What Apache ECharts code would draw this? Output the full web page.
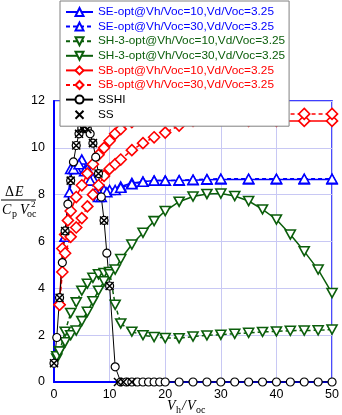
<!DOCTYPE html>
<html>
<head>
<meta charset="utf-8">
<script src="https://cdn.jsdelivr.net/npm/echarts@6/dist/echarts.min.js"></script>
<style>
  html, body { margin: 0; padding: 0; background: #fff; }
  #chart { width: 342px; height: 415px; }
</style>
</head>
<body>
<div id="chart"></div>
<script>
// x ticks / y ticks
const xTicks = [0, 10, 20, 30, 40, 50]
const yTicks = [0, 2, 4, 6, 8, 10, 12]

// SE-opt (blue, up triangles)
const seX10 = [2, 3, 4, 5, 6, 7, 8, 9, 10, 12, 14, 16, 18, 20, 22.5, 25, 27.5, 30, 35, 40, 45, 50]
const seY10 = [6.2, 9.1, 9.1, 9.5, 9.1, 8.7, 7.9, 8.2, 8.2, 8.35, 8.5, 8.55, 8.6, 8.6, 8.6, 8.62, 8.64, 8.65, 8.65, 8.65, 8.65, 8.65]
const seX30 = [2, 2.8, 3.5, 4.5, 5.5, 6.5, 7.5, 8.5, 9.5, 11, 12, 14, 16, 18, 20, 22.5, 25, 27.5, 30, 35, 40, 45, 50]
const seY30 = [6.2, 8.1, 9.1, 9.3, 9.0, 8.6, 8.1, 7.9, 8.1, 8.2, 8.3, 8.45, 8.55, 8.6, 8.6, 8.62, 8.64, 8.66, 8.68, 8.68, 8.68, 8.68, 8.68]

// SH-3-opt (green, down triangles)
const shX10 = [0.5, 1, 2, 3, 4, 5, 6, 7, 8, 9, 10, 11, 12, 14, 16, 18, 20, 22.5, 25, 27.5, 30, 32.5, 35, 37.5, 40, 42.5, 45, 47.5, 50]
const shY10 = [1.0, 1.3, 2.15, 2.95, 3.4, 3.9, 4.2, 4.45, 4.6, 4.65, 4.7, 3.3, 2.5, 2.15, 2.0, 1.92, 1.88, 1.87, 1.94, 1.99, 2.02, 2.06, 2.1, 2.14, 2.16, 2.19, 2.2, 2.21, 2.24]
const shX30 = [0.5, 1, 2, 3, 4, 5, 6, 7, 8, 9, 10, 11, 12, 14, 16, 18, 20, 22.5, 25, 27.5, 30, 32.5, 35, 37.5, 40, 42.5, 45, 47.5, 50]
const shY30 = [1.1, 1.3, 1.7, 2.0, 2.2, 2.6, 3.0, 3.45, 3.9, 4.3, 4.6, 4.8, 5.25, 5.87, 6.37, 6.87, 7.3, 7.7, 7.92, 8.03, 8.05, 7.94, 7.73, 7.37, 6.94, 6.3, 5.58, 4.8, 3.8]

// SB-opt (red, diamonds)
const sbX10 = [1, 1.5, 2, 2.5, 3, 4, 5, 6, 7, 8, 9, 10, 11, 12, 14, 16, 18, 20, 22.5, 25, 27.5, 30, 35, 40, 45, 50]
const sbY10 = [3.3, 5.7, 6.3, 6.9, 7.3, 7.9, 8.4, 8.9, 9.3, 9.7, 10.0, 10.3, 10.6, 10.8, 11.1, 11.2, 11.25, 11.3, 11.3, 11.3, 11.25, 11.2, 11.15, 11.15, 11.15, 11.15]
const sbX30 = [1, 1.5, 2, 3, 4, 5, 6, 7, 8, 9, 10, 11, 12, 14, 16, 18, 20, 22.5, 25, 27.5, 30, 35, 40, 45, 50]
const sbY30 = [3.3, 4.7, 5.5, 6.2, 6.6, 7.0, 7.5, 8.0, 8.4, 8.8, 9.1, 9.3, 9.5, 9.9, 10.2, 10.45, 10.65, 10.95, 11.15, 11.3, 11.42, 11.45, 11.45, 11.45, 11.45]

// SSHI (black circles) and SS (black crosses)
const sshiX = [0, 0.5, 1, 1.5, 2, 2.5, 3, 3.5, 4, 4.5, 5, 5.5, 6, 6.5, 7, 7.5, 8, 8.5, 9, 9.5, 10, 11, 12, 13, 14, 15, 16, 17, 18, 19, 20, 22.5, 25, 27.5, 30, 32.5, 35, 37.5, 40, 42.5, 45, 47.5, 50]
const sshiY = [0.8, 1.9, 3.6, 5.1, 6.45, 7.6, 8.6, 9.4, 10.1, 10.6, 10.85, 10.9, 10.8, 10.6, 10.2, 9.6, 8.9, 7.9, 6.9, 5.5, 4.1, 0.65, 0, 0, 0, 0, 0, 0, 0, 0, 0, 0, 0, 0, 0, 0, 0, 0, 0, 0, 0, 0, 0]
const ssX = [0, 1, 2, 3, 4, 4.5, 5, 5.5, 6, 7, 8, 9, 10, 11.5, 12.5, 14]
const ssY = [0.8, 3.6, 6.45, 8.6, 10.1, 10.6, 10.85, 10.9, 10.8, 10.2, 8.9, 6.9, 4.1, 0, 0, 0]

const BLUE = '#0000ff'
const GREEN = '#0b5e0b'
const RED = '#ff0000'
const BLACK = '#000000'

const pairs = (xs, ys) => xs.map((x, i) => [x, ys[i]])

const downTri = 'path://M0,0L10,0L5,9Z'
const cross = 'path://M0,0L10,10M10,0L0,10'

const lineSeries = (name, xs, ys, color, dashed, symbol, size) => ({
  name,
  type: 'line',
  data: pairs(xs, ys),
  symbol,
  symbolSize: size,
  showAllSymbol: true,
  lineStyle: { color, width: 1.5, type: dashed ? [4, 3] : 'solid' },
  itemStyle: { color: '#fff', borderColor: color, borderWidth: 1.6 },
  emphasis: { disabled: true },
  animation: false
})

const series = [
  lineSeries('SE-opt@Vh/Voc=10,Vd/Voc=3.25', seX10, seY10, BLUE, false, 'triangle', [10, 9]),
  lineSeries('SE-opt@Vh/Voc=30,Vd/Voc=3.25', seX30, seY30, BLUE, true, 'triangle', [10, 9]),
  lineSeries('SH-3-opt@Vh/Voc=10,Vd/Voc=3.25', shX10, shY10, GREEN, true, downTri, [10, 9]),
  lineSeries('SH-3-opt@Vh/Voc=30,Vd/Voc=3.25', shX30, shY30, GREEN, false, downTri, [10, 9]),
  lineSeries('SB-opt@Vh/Voc=10,Vd/Voc=3.25', sbX10, sbY10, RED, false, 'diamond', [11, 11]),
  lineSeries('SB-opt@Vh/Voc=30,Vd/Voc=3.25', sbX30, sbY30, RED, true, 'diamond', [11, 11]),
  {
    ...lineSeries('SSHI', sshiX, sshiY, BLACK, false, 'circle', 8),
    lineStyle: { color: BLACK, width: 1 },
    itemStyle: { color: '#fff', borderColor: BLACK, borderWidth: 1.2 }
  },
  {
    ...lineSeries('SS', ssX, ssY, BLACK, false, cross, 8),
    z: 5,
    lineStyle: { color: BLACK, width: 0, opacity: 0 },
    itemStyle: { color: 'none', borderColor: BLACK, borderWidth: 1.5 }
  }
]

const legendColors = [BLUE, BLUE, GREEN, GREEN, RED, RED, BLACK, BLACK]

const chart = echarts.init(document.getElementById('chart'), null, { renderer: 'canvas' })

chart.setOption({
  animation: false,
  backgroundColor: '#fff',
  grid: {
    left: 54, right: 8, top: 101, bottom: 33,
    show: true, borderColor: BLUE, borderWidth: 1.5, backgroundColor: 'transparent'
  },
  legend: {
    orient: 'vertical',
    left: 60, top: 1,
    z: 10,
    backgroundColor: '#fff',
    borderColor: '#808080',
    borderWidth: 1,
    borderRadius: 0,
    padding: [5, 4, 5, 5],
    itemWidth: 27,
    itemHeight: 10,
    itemGap: 2.6,
    selectedMode: false,
    textStyle: { fontFamily: 'Liberation Sans', fontSize: 11.8, lineHeight: 10 },
    data: series.map((s, i) => ({ name: s.name, textStyle: { color: legendColors[i] } }))
  },
  xAxis: {
    type: 'value',
    min: xTicks[0], max: xTicks[xTicks.length - 1], interval: 10,
    axisLine: { lineStyle: { color: BLUE, width: 2 } },
    axisTick: { show: false },
    axisLabel: { color: '#000', fontFamily: 'Liberation Sans', fontSize: 12.5, margin: 6 },
    splitLine: { lineStyle: { color: '#c8c8f4', width: 1 } }
  },
  yAxis: {
    type: 'value',
    min: yTicks[0], max: yTicks[yTicks.length - 1], interval: 2,
    axisLine: { lineStyle: { color: BLUE, width: 2 } },
    axisTick: { show: false },
    axisLabel: { color: '#000', fontFamily: 'Liberation Sans', fontSize: 12.5, margin: 9 },
    splitLine: { lineStyle: { color: '#c8c8f4', width: 1 } }
  },
  graphic: [
    // y axis title: ΔE / (Cp Voc^2)
    { type: 'text', left: 5, top: 185, style: { text: 'Δ', font: '14px "Liberation Serif"', fill: '#000' } },
    { type: 'text', left: 15, top: 185, style: { text: 'E', font: 'italic 14px "Liberation Serif"', fill: '#000' } },
    { type: 'line', shape: { x1: 1, y1: 200, x2: 36, y2: 200 }, style: { stroke: '#000', lineWidth: 1 } },
    { type: 'text', left: 2, top: 203, style: { text: 'C', font: 'italic 14px "Liberation Serif"', fill: '#000' } },
    { type: 'text', left: 12, top: 209, style: { text: 'p', font: '10px "Liberation Serif"', fill: '#000' } },
    { type: 'text', left: 20, top: 203, style: { text: 'V', font: 'italic 14px "Liberation Serif"', fill: '#000' } },
    { type: 'text', left: 27, top: 209, style: { text: 'oc', font: '10px "Liberation Serif"', fill: '#000' } },
    { type: 'text', left: 31, top: 200, style: { text: '2', font: '9px "Liberation Serif"', fill: '#000' } },
    // x axis title: Vh/Voc
    { type: 'text', left: 167, top: 399, style: { text: 'V', font: 'italic 14px "Liberation Serif"', fill: '#000' } },
    { type: 'text', left: 176, top: 405, style: { text: 'h', font: '10px "Liberation Serif"', fill: '#000' } },
    { type: 'text', left: 182, top: 399, style: { text: '/', font: 'italic 14px "Liberation Serif"', fill: '#000' } },
    { type: 'text', left: 187, top: 399, style: { text: 'V', font: 'italic 14px "Liberation Serif"', fill: '#000' } },
    { type: 'text', left: 196, top: 405, style: { text: 'oc', font: '10px "Liberation Serif"', fill: '#000' } }
  ],
  series
})
</script>
</body>
</html>
